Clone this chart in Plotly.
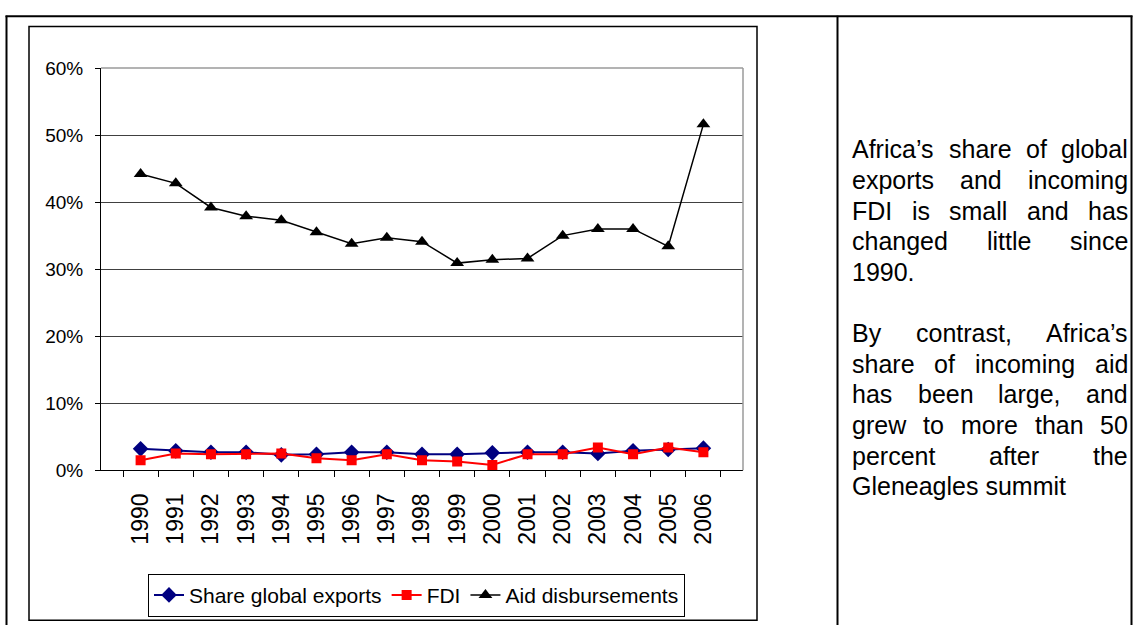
import plotly.graph_objects as go

years = [str(y) for y in range(1990, 2007)]
exports = [0.032, 0.029, 0.027, 0.027, 0.023, 0.024, 0.027, 0.027, 0.024, 0.024, 0.026, 0.027, 0.027, 0.025, 0.029, 0.031, 0.033]
fdi = [0.015, 0.025, 0.024, 0.024, 0.025, 0.018, 0.015, 0.024, 0.015, 0.013, 0.008, 0.024, 0.024, 0.034, 0.024, 0.034, 0.027]
aid = [0.442, 0.428, 0.392, 0.379, 0.373, 0.355, 0.338, 0.347, 0.341, 0.309, 0.314, 0.316, 0.350, 0.360, 0.360, 0.334, 0.516]

para1 = ["Africa\u2019s share of global", "exports and incoming", "FDI is small and has",
         "changed little since", "1990."]
para2 = ["By contrast, Africa\u2019s", "share of incoming aid", "has been large, and",
         "grew to more than 50", "percent after the", "Gleneagles summit"]

W, H = 1134, 636
FONT = "Liberation Sans, Arial, sans-serif"

def px(x):
    return x / W

def py(y):
    return 1 - y / H

fig = go.Figure()
fig.add_trace(go.Scatter(x=years, y=exports, name="Share global exports", mode="lines+markers",
                         line=dict(color="#000080", width=2),
                         marker=dict(symbol="diamond", size=12, color="#000080")))
fig.add_trace(go.Scatter(x=years, y=fdi, name="FDI", mode="lines+markers",
                         line=dict(color="#FF0000", width=2),
                         marker=dict(symbol="square", size=10, color="#FF0000")))
fig.add_trace(go.Scatter(x=years, y=aid, name="Aid disbursements", mode="lines+markers",
                         line=dict(color="#000000", width=1.5),
                         marker=dict(symbol="triangle-up", size=12, color="#000000")))

fig.update_layout(
    width=W, height=H, autosize=False,
    margin=dict(l=0, r=0, t=0, b=0),
    paper_bgcolor="white", plot_bgcolor="white",
    font=dict(family=FONT, color="black"),
    showlegend=True,
    legend=dict(orientation="h", x=px(148), y=py(583), xanchor="left", yanchor="top",
                bordercolor="#000000", borderwidth=1, bgcolor="white",
                font=dict(size=21, family=FONT), tracegroupgap=0, itemwidth=30),
    xaxis=dict(domain=[px(101), px(743)], type="category", tickson="boundaries",
               ticks="outside", ticklen=6, tickcolor="black", showline=True,
               linecolor="black", linewidth=1, showgrid=False, tickangle=-90,
               tickfont=dict(size=23, family=FONT), ticklabelstandoff=13),
    yaxis=dict(domain=[py(476), py(60)], range=[0, 0.6], dtick=0.1, tickformat=".0%",
               ticks="outside", ticklen=5, tickcolor="black", showline=True,
               linecolor="black", linewidth=1, showgrid=True, gridcolor="#404040",
               gridwidth=1, zeroline=False, tickfont=dict(size=19, family=FONT),
               ticklabelstandoff=8),
)

# plot area frame (top/right grey)
fig.add_shape(type="line", xref="x domain", yref="y domain", x0=0, x1=1, y0=1, y1=1,
              line=dict(color="#9a9a9a", width=1.5), layer="above")
fig.add_shape(type="line", xref="x domain", yref="y domain", x0=1, x1=1, y0=0, y1=1,
              line=dict(color="#9a9a9a", width=1.5), layer="above")

# chart box
fig.add_shape(type="rect", xref="paper", yref="paper", x0=px(29), x1=px(757), y0=py(631), y1=py(17),
              line=dict(color="black", width=1.5))
# table borders
for x in (6.5, 837.5, 1131.5):
    fig.add_shape(type="line", xref="paper", yref="paper", x0=px(x), x1=px(x), y0=0, y1=py(6),
                  line=dict(color="black", width=2))
fig.add_shape(type="line", xref="paper", yref="paper", x0=px(5.5), x1=px(1132.5), y0=py(6.5), y1=py(6.5),
              line=dict(color="black", width=2))

# justified text on right
AW = {' ': 278, '\u2019': 222, ',': 278, '.': 278, '0': 556, '1': 556, '5': 556, '9': 556,
      'A': 667, 'B': 667, 'D': 722, 'F': 611, 'G': 778, 'I': 278,
      'a': 556, 'b': 556, 'c': 500, 'd': 556, 'e': 556, 'f': 278, 'g': 556, 'h': 556,
      'i': 222, 'l': 222, 'm': 833, 'n': 556, 'o': 556, 'p': 556, 'r': 333, 's': 500,
      't': 278, 'u': 556, 'w': 722, 'x': 500, 'y': 500}
FS = 25
X0, X1 = 851, 1127

def wwidth(w):
    return sum(AW.get(c, 556) for c in w) * FS / 1000.0

def place_para(lines, y0, step):
    for i, line in enumerate(lines):
        y = y0 + i * step
        words = line.split(" ")
        last = (i == len(lines) - 1)
        if last or len(words) == 1:
            fig.add_annotation(text=line, xref="paper", yref="paper", x=px(X0), y=py(y),
                               xanchor="left", yanchor="middle", showarrow=False,
                               font=dict(size=FS, family=FONT, color="black"), borderpad=0)
            continue
        tot = sum(wwidth(w) for w in words)
        gap = (X1 - X0 - tot) / (len(words) - 1)
        x = X0
        for w in words:
            fig.add_annotation(text=w, xref="paper", yref="paper", x=px(x), y=py(y),
                               xanchor="left", yanchor="middle", showarrow=False,
                               font=dict(size=FS, family=FONT, color="black"), borderpad=0)
            x += wwidth(w) + gap

STEP = 31.7
place_para(para1, 144, STEP)
place_para(para2, 144 + 6 * STEP, STEP)

post = ("var d=document.getElementById('{plot_id}');"
        "d.style.position='fixed';d.style.top='0px';d.style.left='0px';"
        "document.body.style.margin='0';document.body.style.padding='0';"
        "document.documentElement.style.overflow='hidden';document.body.style.overflow='hidden';")

fig.write_html("out.html", config={"displayModeBar": False}, post_script=post)
